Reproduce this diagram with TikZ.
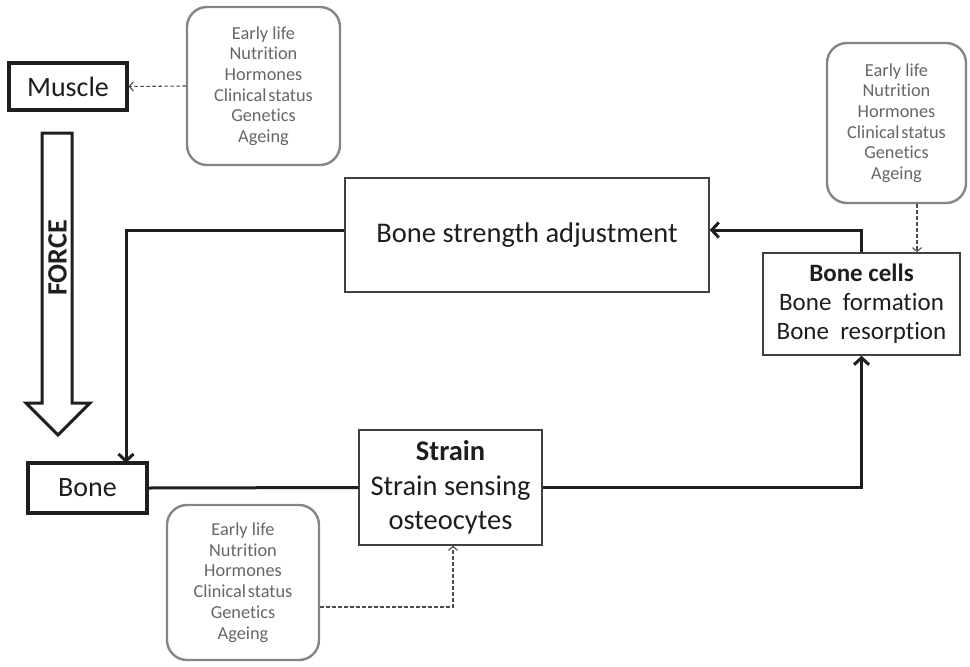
\documentclass[tikz,border=0pt]{standalone}
\usepackage{fontspec}
\setmainfont{Carlito}[Ligatures={NoCommon}]
\usetikzlibrary{arrows.meta}
\definecolor{ink}{HTML}{1E1E1E}
\definecolor{facgray}{HTML}{858585}
\definecolor{factext}{HTML}{666666}
\begin{document}
\begin{tikzpicture}[x=1pt,y=-1pt,
  thickbox/.style={draw=ink,line width=3.2pt,inner sep=0pt,font=\fontsize{28}{34}\selectfont,text=ink},
  thinbox/.style={draw=ink!85,line width=1.4pt,inner sep=0pt,align=center,text=ink},
  facbox/.style={draw=facgray,line width=2.4pt,rounded corners=20pt,inner sep=0pt,align=center,
    text=factext,font=\fontsize{18.3}{20.7}\selectfont},
  conn/.style={draw=ink,line width=3pt},
  connarrow/.style={conn,-{Straight Barb[length=7pt,width=15pt,line width=3pt]}},
  dasharrow/.style={draw=ink!80,line width=1.1pt,dash pattern=on 3.5pt off 2.5pt,
    -{Straight Barb[length=4pt,width=9pt,line width=1.1pt]}}]
\useasboundingbox (0,0) rectangle (970,667);

% nodes
\node[thickbox,minimum width=118pt,minimum height=47pt] (muscle) at (68,86.5) {Muscle};
\node[thickbox,minimum width=119pt,minimum height=50pt] (bone) at (87.5,488) {Bone};
\node[thinbox,minimum width=364pt,minimum height=114pt,font=\fontsize{28.5}{34}\selectfont] (bsa) at (527,235) {Bone strength adjustment};
\node[thinbox,minimum width=183pt,minimum height=115pt,font=\fontsize{28.5}{34.5}\selectfont] (strain) at (450.5,487.5) {\textbf{Strain}\\Strain sensing\\osteocytes};
\node[thinbox,minimum width=197pt,minimum height=102pt,font=\fontsize{25}{29}\selectfont] (cells) at (861.5,304) {\textbf{Bone cells}\\Bone\ \ formation\\Bone\ \ resorption};

\node[facbox,minimum width=153pt,minimum height=158pt] (fac1) at (263.5,86) {Early life\\Nutrition\\Hormones\\Clinical\hspace{0.1em}status\\Genetics\\Ageing};
\node[facbox,minimum width=139pt,minimum height=160pt] (fac2) at (896.5,123) {Early life\\Nutrition\\Hormones\\Clinical\hspace{0.1em}status\\Genetics\\Ageing};
\node[facbox,minimum width=152pt,minimum height=155pt] (fac3) at (243,582.5) {Early life\\Nutrition\\Hormones\\Clinical\hspace{0.1em}status\\Genetics\\Ageing};

% FORCE arrow
\draw[draw=ink,line width=3pt,line join=miter,fill=white]
  (42,133) -- (72,133) -- (72,403) -- (90,403) -- (58,435) -- (26,403) -- (42,403) -- cycle;
\node[rotate=90,font=\bfseries\fontsize{28}{30}\selectfont,text=ink] (force) at (57.5,258) {FORCE};

% connectors
\coordinate (bonetop) at (126,463);
\draw[connarrow] ([yshift=5pt]bsa.west) -| (bonetop);
\draw[conn] (bone.east) -- (strain.west);
\draw[connarrow] (strain.east) -| (cells.south);
\draw[connarrow] (cells.north) |- ([yshift=5pt]bsa.east);

% dashed influences
\draw[dasharrow] (fac1.west) -- (muscle.east);
\draw[dasharrow] ([xshift=20.5pt]fac2.south) -- ([xshift=20.5pt]fac2.south |- cells.north);
\draw[dasharrow] ([yshift=-24.5pt]fac3.east) -| ([xshift=2.5pt]strain.south);
\end{tikzpicture}
\end{document}
